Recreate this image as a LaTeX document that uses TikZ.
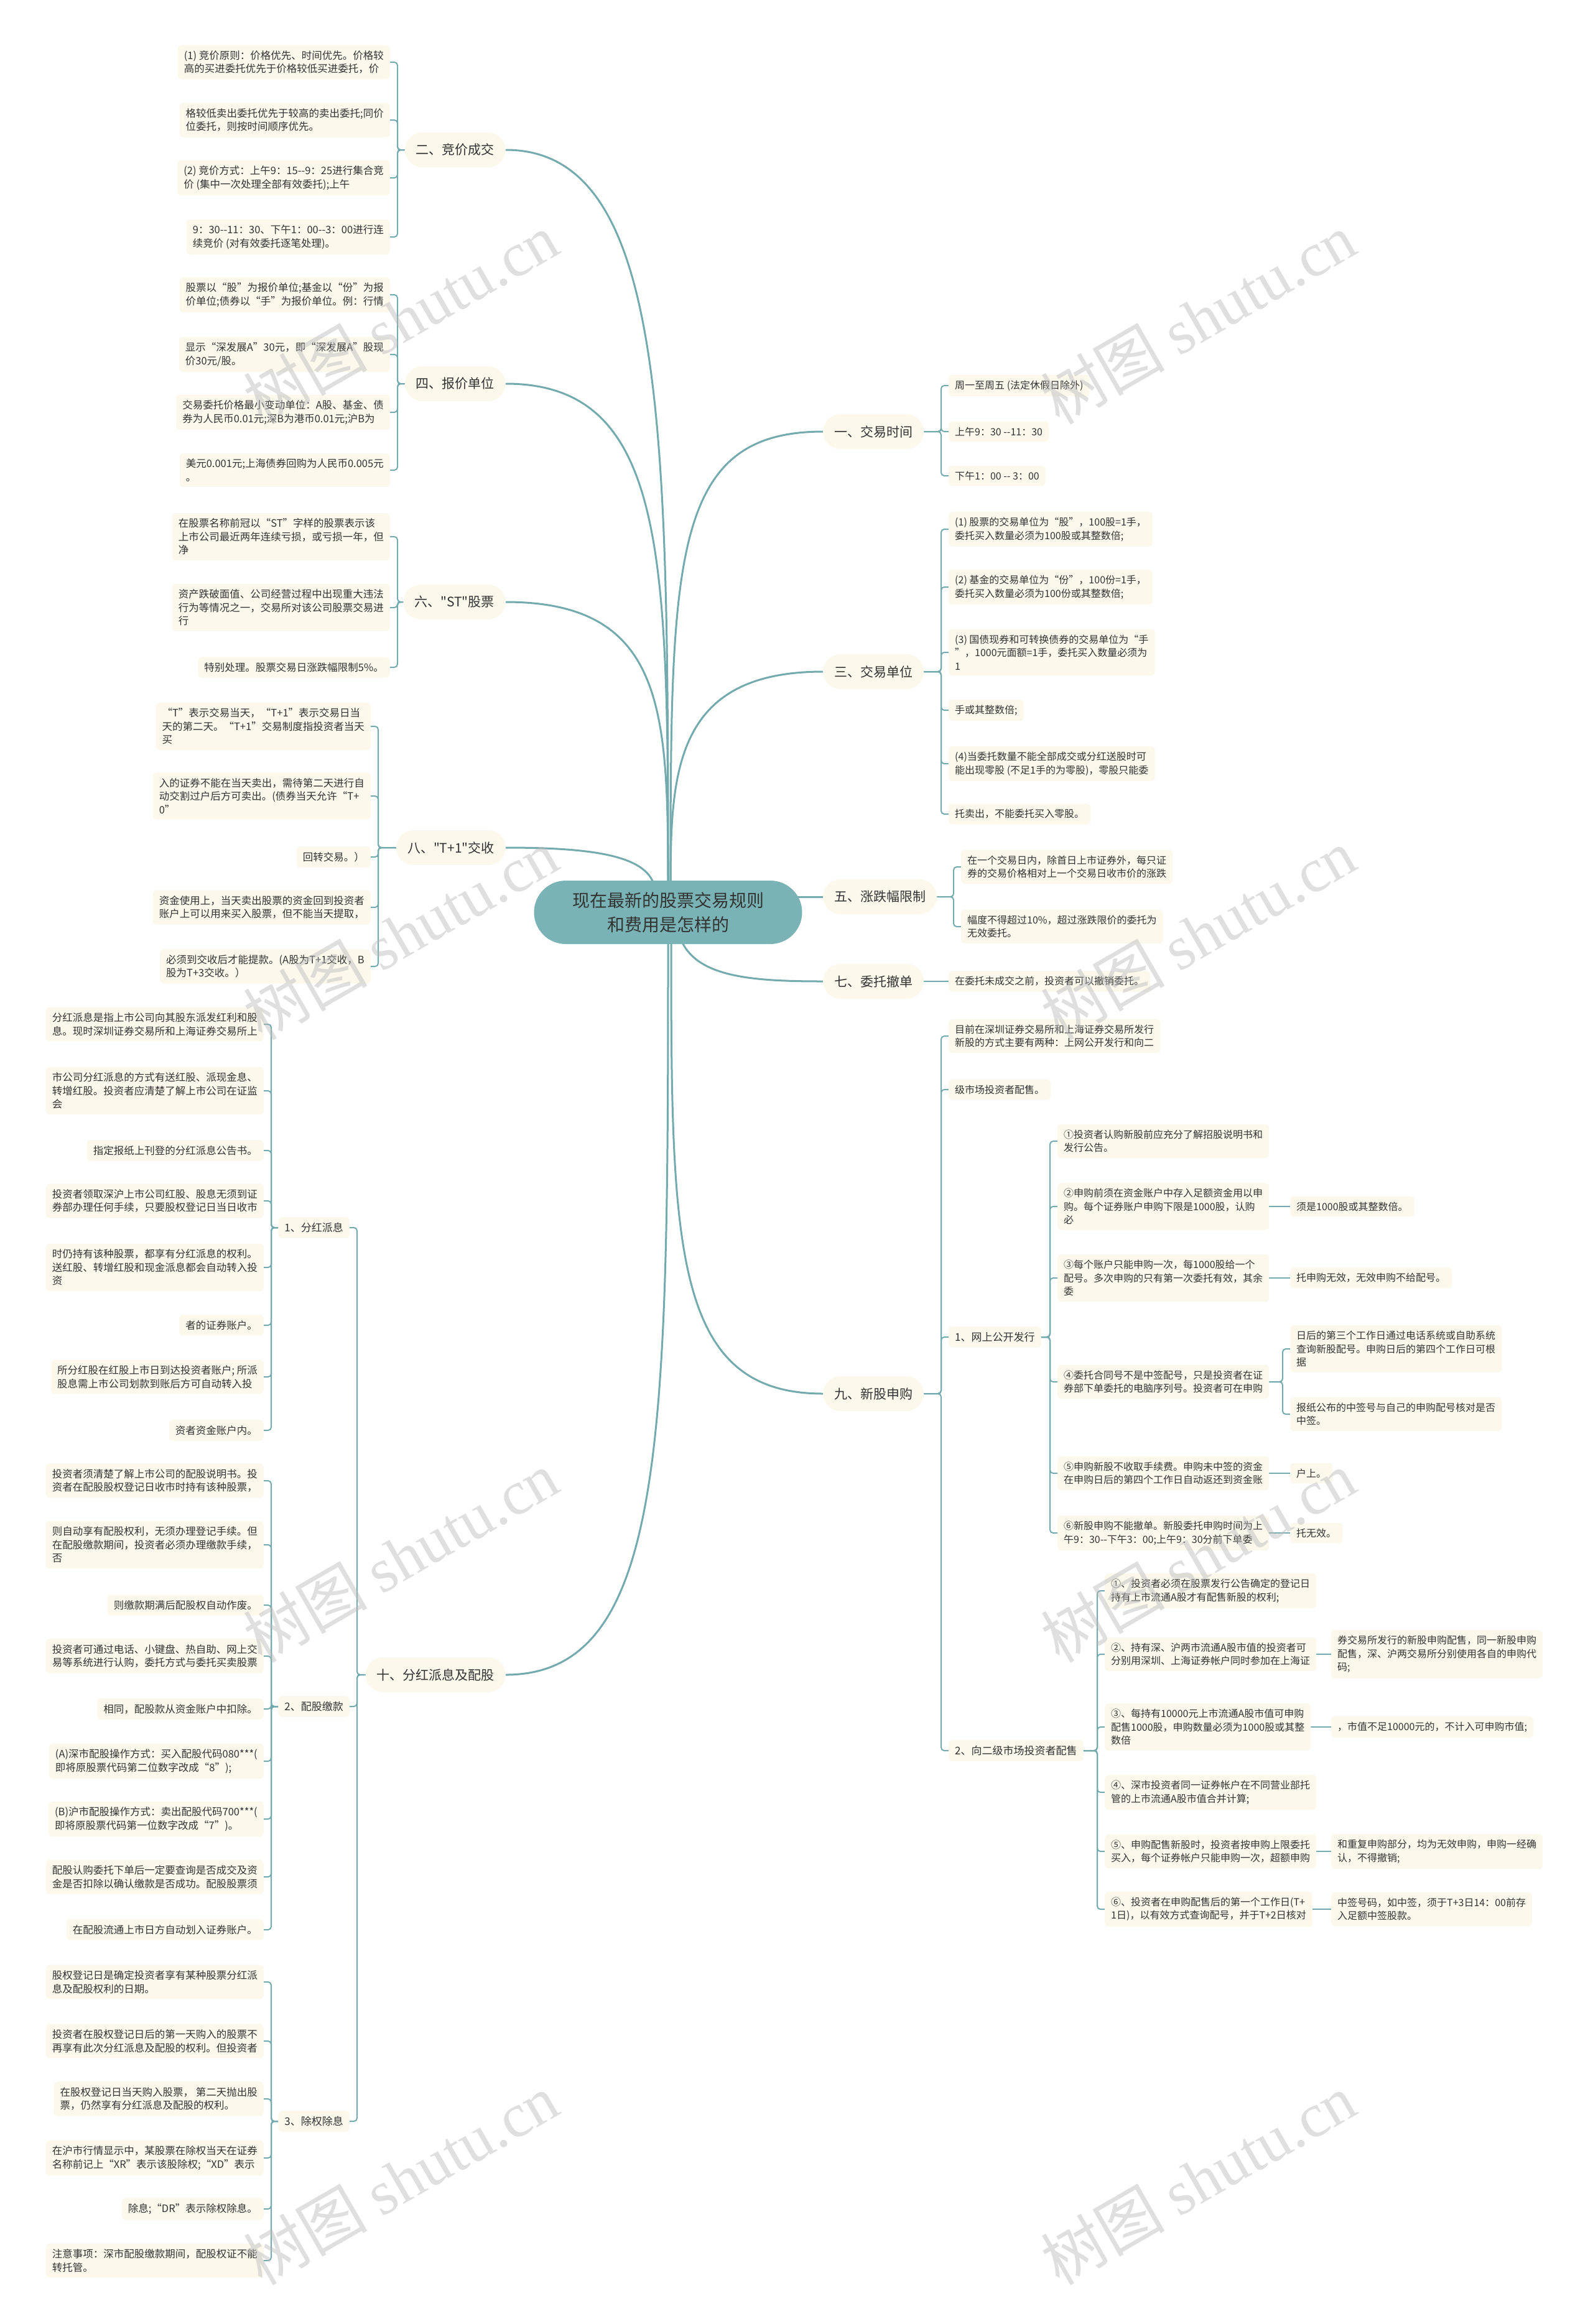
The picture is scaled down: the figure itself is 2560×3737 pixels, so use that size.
\documentclass[tikz,border=0pt]{standalone}
\usepackage{fontspec}
\setmainfont{Noto Sans CJK SC}[Ligatures=TeXOff]
\newfontfamily\wmfont{Liberation Serif}
\usepackage{xcolor}
\usetikzlibrary{backgrounds}

\definecolor{linecol}{HTML}{72AAAD}
\definecolor{rootfill}{HTML}{79B3B5}
\definecolor{boxfill}{HTML}{FCF8EC}
\definecolor{txtcol}{HTML}{333333}

\begin{document}
\begin{tikzpicture}[
  x=1pt, y=-1pt,
  rootnode/.style={fill=rootfill, rounded corners=51, minimum width=431, minimum height=102, align=center, text=txtcol, font=\fontsize{28}{39}\selectfont},
  topic/.style={fill=boxfill, rounded corners=28, minimum height=56, inner xsep=18, text=txtcol, font=\fontsize{21}{25}\selectfont},
  subtopic/.style={fill=boxfill, rounded corners=6, inner xsep=10, inner ysep=9, text=txtcol, font=\fontsize{17}{21.5}\selectfont},
  leafL/.style={fill=boxfill, rounded corners=6, inner xsep=10, inner ysep=9, align=left, anchor=east, text=txtcol, font=\fontsize{16.5}{21.5}\selectfont},
  leafR/.style={fill=boxfill, rounded corners=6, inner xsep=10, inner ysep=9, align=left, anchor=west, text=txtcol, font=\fontsize{16}{21.5}\selectfont},
  branch/.style={draw=linecol, line width=3},
  twig/.style={draw=linecol, line width=2, rounded corners=5},
  watermark/.style={text=gray!55, text opacity=0.45, rotate=30, font=\fontsize{100}{100}\selectfont}
]
\useasboundingbox (0,0) rectangle (2560,3737);

% root
\node[rootnode] (root) at (1074,1467) {现在最新的股票交易规则\\和费用是怎样的};

% left topics
\node[topic, anchor=east] (jj) at (813,241) {二、竞价成交};
\node[topic, anchor=east] (bj) at (813,617) {四、报价单位};
\node[topic, anchor=east] (st) at (813,968) {六、"ST"股票};
\node[topic, anchor=east] (tj) at (813,1363) {八、"T+1"交收};
\node[topic, anchor=east] (fh) at (813,2693) {十、分红派息及配股};

% right topics
\node[topic, anchor=west] (jy) at (1323,694) {一、交易时间};
\node[topic, anchor=west] (dw) at (1323,1080) {三、交易单位};
\node[topic, anchor=west] (zd) at (1323,1442) {五、涨跌幅限制};
\node[topic, anchor=west] (cd) at (1323,1578) {七、委托撤单};
\node[topic, anchor=west] (xg) at (1323,2241) {九、新股申购};

% 二
\node[leafL] (jja) at (627,100) {(1) 竞价原则：价格优先、时间优先。价格较\\高的买进委托优先于价格较低买进委托，价};
\node[leafL] (jjb) at (627,193) {格较低卖出委托优先于较高的卖出委托;同价\\位委托，则按时间顺序优先。};
\node[leafL] (jjc) at (627,286) {(2) 竞价方式：上午9：15--9：25进行集合竞\\价 (集中一次处理全部有效委托);上午};
\node[leafL] (jjd) at (627,381) {9：30--11：30、下午1：00--3：00进行连\\续竞价 (对有效委托逐笔处理)。};

% 四
\node[leafL] (bja) at (627,474) {股票以“股”为报价单位;基金以“份”为报\\价单位;债券以“手”为报价单位。例：行情};
\node[leafL] (bjb) at (627,570) {显示“深发展A”30元，即“深发展A”股现\\价30元/股。};
\node[leafL] (bjc) at (627,663) {交易委托价格最小变动单位：A股、基金、债\\券为人民币0.01元;深B为港币0.01元;沪B为};
\node[leafL] (bjd) at (627,756) {美元0.001元;上海债券回购为人民币0.005元\\。};

% 六
\node[leafL] (sta) at (627,863) {在股票名称前冠以“ST”字样的股票表示该\\上市公司最近两年连续亏损，或亏损一年，但\\净};
\node[leafL] (stb) at (627,977) {资产跌破面值、公司经营过程中出现重大违法\\行为等情况之一，交易所对该公司股票交易进\\行};
\node[leafL] (stc) at (627,1073) {特别处理。股票交易日涨跌幅限制5\%。};

% 八
\node[leafL] (tja) at (596,1168) {“T”表示交易当天，“T+1”表示交易日当\\天的第二天。“T+1”交易制度指投资者当天\\买};
\node[leafL] (tjb) at (596,1280) {入的证券不能在当天卖出，需待第二天进行自\\动交割过户后方可卖出。(债券当天允许“T+\\0”};
\node[leafL] (tjc) at (596,1378) {回转交易。）};
\node[leafL] (tjd) at (596,1459) {资金使用上，当天卖出股票的资金回到投资者\\账户上可以用来买入股票，但不能当天提取，};
\node[leafL] (tje) at (596,1554) {必须到交收后才能提款。(A股为T+1交收，B\\股为T+3交收。）};

% 十
\node[subtopic, anchor=east] (fh1) at (562,1974) {1、分红派息};
\node[subtopic, anchor=east] (fh2) at (562,2744) {2、配股缴款};
\node[subtopic, anchor=east] (fh3) at (562,3411) {3、除权除息};

\node[leafL] (fh1a) at (424,1647) {分红派息是指上市公司向其股东派发红利和股\\息。现时深圳证券交易所和上海证券交易所上};
\node[leafL] (fh1b) at (424,1754) {市公司分红派息的方式有送红股、派现金息、\\转增红股。投资者应清楚了解上市公司在证监\\会};
\node[leafL] (fh1c) at (424,1850) {指定报纸上刊登的分红派息公告书。};
\node[leafL] (fh1d) at (424,1931) {投资者领取深沪上市公司红股、股息无须到证\\券部办理任何手续，只要股权登记日当日收市};
\node[leafL] (fh1e) at (424,2038) {时仍持有该种股票，都享有分红派息的权利。\\送红股、转增红股和现金派息都会自动转入投\\资};
\node[leafL] (fh1f) at (424,2131) {者的证券账户。};
\node[leafL] (fh1g) at (424,2214) {所分红股在红股上市日到达投资者账户; 所派\\股息需上市公司划款到账后方可自动转入投};
\node[leafL] (fh1h) at (424,2300) {资者资金账户内。};

\node[leafL] (fh2a) at (424,2381) {投资者须清楚了解上市公司的配股说明书。投\\资者在配股股权登记日收市时持有该种股票，};
\node[leafL] (fh2b) at (424,2484) {则自动享有配股权利，无须办理登记手续。但\\在配股缴款期间，投资者必须办理缴款手续，\\否};
\node[leafL] (fh2c) at (424,2581) {则缴款期满后配股权自动作废。};
\node[leafL] (fh2d) at (424,2663) {投资者可通过电话、小键盘、热自助、网上交\\易等系统进行认购，委托方式与委托买卖股票};
\node[leafL] (fh2e) at (424,2748) {相同，配股款从资金账户中扣除。};
\node[leafL] (fh2f) at (424,2832) {(A)深市配股操作方式：买入配股代码080***(\\即将原股票代码第二位数字改成“8”);};
\node[leafL] (fh2g) at (424,2925) {(B)沪市配股操作方式：卖出配股代码700***(\\即将原股票代码第一位数字改成“7”)。};
\node[leafL] (fh2h) at (424,3018) {配股认购委托下单后一定要查询是否成交及资\\金是否扣除以确认缴款是否成功。配股股票须};
\node[leafL] (fh2i) at (424,3103) {在配股流通上市日方自动划入证券账户。};

\node[leafL] (fh3a) at (424,3187) {股权登记日是确定投资者享有某种股票分红派\\息及配股权利的日期。};
\node[leafL] (fh3b) at (424,3282) {投资者在股权登记日后的第一天购入的股票不\\再享有此次分红派息及配股的权利。但投资者};
\node[leafL] (fh3c) at (424,3375) {在股权登记日当天购入股票， 第二天抛出股\\票，仍然享有分红派息及配股的权利。};
\node[leafL] (fh3d) at (424,3470) {在沪市行情显示中，某股票在除权当天在证券\\名称前记上“XR”表示该股除权;“XD”表示};
\node[leafL] (fh3e) at (424,3552) {除息;“DR”表示除权除息。};
\node[leafL] (fh3f) at (424,3635) {注意事项：深市配股缴款期间，配股权证不能\\转托管。};

% 一
\node[leafR] (jya) at (1525,620) {周一至周五 (法定休假日除外)};
\node[leafR] (jyb) at (1525,694) {上午9：30 --11：30};
\node[leafR] (jyc) at (1525,765) {下午1：00 -- 3：00};

% 三
\node[leafR] (dwa) at (1525,851) {(1) 股票的交易单位为“股”，100股=1手，\\委托买入数量必须为100股或其整数倍;};
\node[leafR] (dwb) at (1525,944) {(2) 基金的交易单位为“份”，100份=1手，\\委托买入数量必须为100份或其整数倍;};
\node[leafR] (dwc) at (1525,1049) {(3) 国债现券和可转换债券的交易单位为“手\\”，1000元面额=1手，委托买入数量必须为\\1};
\node[leafR] (dwd) at (1525,1142) {手或其整数倍;};
\node[leafR] (dwe) at (1525,1228) {(4)当委托数量不能全部成交或分红送股时可\\能出现零股 (不足1手的为零股)，零股只能委};
\node[leafR] (dwf) at (1525,1309) {托卖出，不能委托买入零股。};

% 五
\node[leafR] (zda) at (1545,1394) {在一个交易日内，除首日上市证券外，每只证\\券的交易价格相对上一个交易日收市价的涨跌};
\node[leafR] (zdb) at (1545,1490) {幅度不得超过10\%，超过涨跌限价的委托为\\无效委托。};

% 七
\node[leafR] (cda) at (1525,1578) {在委托未成交之前，投资者可以撤销委托。};

% 九
\node[leafR] (xga) at (1525,1666) {目前在深圳证券交易所和上海证券交易所发行\\新股的方式主要有两种：上网公开发行和向二};
\node[leafR] (xgb) at (1525,1752) {级市场投资者配售。};
\node[subtopic, anchor=west] (xg1) at (1525,2150) {1、网上公开发行};
\node[subtopic, anchor=west] (xg2) at (1525,2815) {2、向二级市场投资者配售};

\node[leafR] (w1) at (1700,1835) {①投资者认购新股前应充分了解招股说明书和\\发行公告。};
\node[leafR] (w2) at (1700,1940) {②申购前须在资金账户中存入足额资金用以申\\购。每个证券账户申购下限是1000股，认购\\必};
\node[leafR] (w3) at (1700,2055) {③每个账户只能申购一次，每1000股给一个\\配号。多次申购的只有第一次委托有效，其余\\委};
\node[leafR] (w4) at (1700,2222) {④委托合同号不是中签配号，只是投资者在证\\券部下单委托的电脑序列号。投资者可在申购};
\node[leafR] (w5) at (1700,2369) {⑤申购新股不收取手续费。申购未中签的资金\\在申购日后的第四个工作日自动返还到资金账};
\node[leafR] (w6) at (1700,2465) {⑥新股申购不能撤单。新股委托申购时间为上\\午9：30--下午3：00;上午9：30分前下单委};
\node[leafR] (w2a) at (2074,1940) {须是1000股或其整数倍。};
\node[leafR] (w3a) at (2074,2055) {托申购无效，无效申购不给配号。};
\node[leafR] (w4a) at (2074,2169) {日后的第三个工作日通过电话系统或自助系统\\查询新股配号。申购日后的第四个工作日可根\\据};
\node[leafR] (w4b) at (2074,2274) {报纸公布的中签号与自己的申购配号核对是否\\中签。};
\node[leafR] (w5a) at (2074,2369) {户上。};
\node[leafR] (w6a) at (2074,2465) {托无效。};

\node[leafR] (p1) at (1776,2558) {①、投资者必须在股票发行公告确定的登记日\\持有上市流通A股才有配售新股的权利;};
\node[leafR] (p2) at (1776,2660) {②、持有深、沪两市流通A股市值的投资者可\\分别用深圳、上海证券帐户同时参加在上海证};
\node[leafR] (p3) at (1776,2777) {③、每持有10000元上市流通A股市值可申购\\配售1000股，申购数量必须为1000股或其整\\数倍};
\node[leafR] (p4) at (1776,2882) {④、深市投资者同一证券帐户在不同营业部托\\管的上市流通A股市值合并计算;};
\node[leafR] (p5) at (1776,2977) {⑤、申购配售新股时，投资者按申购上限委托\\买入，每个证券帐户只能申购一次，超额申购};
\node[leafR] (p6) at (1776,3070) {⑥、投资者在申购配售后的第一个工作日(T+\\1日)，以有效方式查询配号，并于T+2日核对};
\node[leafR] (p2a) at (2140,2660) {券交易所发行的新股申购配售，同一新股申购\\配售，深、沪两交易所分别使用各自的申购代\\码;};
\node[leafR] (p3a) at (2140,2777) {，市值不足10000元的，不计入可申购市值;};
\node[leafR] (p5a) at (2140,2977) {和重复申购部分，均为无效申购，申购一经确\\认，不得撤销;};
\node[leafR] (p6a) at (2140,3070) {中签号码，如中签，须于T+3日14：00前存\\入足额中签股款。};

\begin{scope}[on background layer]
\fill[white] (0,0) rectangle (2560,3737);
% root to topics
\draw[branch] (1074,1440) .. controls (1074,700) and (1074,241) .. (jj.east);
\draw[branch] (1074,1440) .. controls (1074,900) and (1074,617) .. (bj.east);
\draw[branch] (1074,1440) .. controls (1074,1150) and (1074,968) .. (st.east);
\draw[branch] (1052,1425) .. controls (1040,1375) and (950,1363) .. (tj.east);
\draw[branch] (1074,1500) .. controls (1074,2300) and (1074,2693) .. (fh.east);
\draw[branch] (1078,1440) .. controls (1078,900) and (1078,694) .. (jy.west);
\draw[branch] (1078,1440) .. controls (1078,1250) and (1078,1080) .. (dw.west);
\draw[branch] (1260,1442) -- (zd.west);
\draw[branch] (1091,1500) .. controls (1110,1570) and (1200,1578) .. (cd.west);
\draw[branch] (1079,1500) .. controls (1079,2000) and (1079,2241) .. (xg.west);

% left brackets
\draw[twig] (jja.east) -- ++(12,0) |- (jj.west);
\draw[twig] (jjb.east) -- ++(12,0) |- (jj.west);
\draw[twig] (jjc.east) -- ++(12,0) |- (jj.west);
\draw[twig] (jjd.east) -- ++(12,0) |- (jj.west);
\draw[twig] (bja.east) -- ++(12,0) |- (bj.west);
\draw[twig] (bjb.east) -- ++(12,0) |- (bj.west);
\draw[twig] (bjc.east) -- ++(12,0) |- (bj.west);
\draw[twig] (bjd.east) -- ++(12,0) |- (bj.west);
\draw[twig] (sta.east) -- ++(12,0) |- (st.west);
\draw[twig] (stb.east) -- ++(12,0) |- (st.west);
\draw[twig] (stc.east) -- ++(12,0) |- (st.west);
\draw[twig] (tja.east) -- ++(12,0) |- (tj.west);
\draw[twig] (tjb.east) -- ++(12,0) |- (tj.west);
\draw[twig] (tjc.east) -- ++(12,0) |- (tj.west);
\draw[twig] (tjd.east) -- ++(12,0) |- (tj.west);
\draw[twig] (tje.east) -- ++(12,0) |- (tj.west);
\draw[twig] (fh1.east) -- ++(12,0) |- (fh.west);
\draw[twig] (fh2.east) -- ++(12,0) |- (fh.west);
\draw[twig] (fh3.east) -- ++(12,0) |- (fh.west);
\draw[twig] (fh1a.east) -- ++(12,0) |- (fh1.west);
\draw[twig] (fh1b.east) -- ++(12,0) |- (fh1.west);
\draw[twig] (fh1c.east) -- ++(12,0) |- (fh1.west);
\draw[twig] (fh1d.east) -- ++(12,0) |- (fh1.west);
\draw[twig] (fh1e.east) -- ++(12,0) |- (fh1.west);
\draw[twig] (fh1f.east) -- ++(12,0) |- (fh1.west);
\draw[twig] (fh1g.east) -- ++(12,0) |- (fh1.west);
\draw[twig] (fh1h.east) -- ++(12,0) |- (fh1.west);
\draw[twig] (fh2a.east) -- ++(12,0) |- (fh2.west);
\draw[twig] (fh2b.east) -- ++(12,0) |- (fh2.west);
\draw[twig] (fh2c.east) -- ++(12,0) |- (fh2.west);
\draw[twig] (fh2d.east) -- ++(12,0) |- (fh2.west);
\draw[twig] (fh2e.east) -- ++(12,0) |- (fh2.west);
\draw[twig] (fh2f.east) -- ++(12,0) |- (fh2.west);
\draw[twig] (fh2g.east) -- ++(12,0) |- (fh2.west);
\draw[twig] (fh2h.east) -- ++(12,0) |- (fh2.west);
\draw[twig] (fh2i.east) -- ++(12,0) |- (fh2.west);
\draw[twig] (fh3a.east) -- ++(12,0) |- (fh3.west);
\draw[twig] (fh3b.east) -- ++(12,0) |- (fh3.west);
\draw[twig] (fh3c.east) -- ++(12,0) |- (fh3.west);
\draw[twig] (fh3d.east) -- ++(12,0) |- (fh3.west);
\draw[twig] (fh3e.east) -- ++(12,0) |- (fh3.west);
\draw[twig] (fh3f.east) -- ++(12,0) |- (fh3.west);

% right brackets
\draw[twig] (jya.west) -- ++(-12,0) |- (jy.east);
\draw[twig] (jyb.west) -- ++(-12,0) |- (jy.east);
\draw[twig] (jyc.west) -- ++(-12,0) |- (jy.east);
\draw[twig] (dwa.west) -- ++(-12,0) |- (dw.east);
\draw[twig] (dwb.west) -- ++(-12,0) |- (dw.east);
\draw[twig] (dwc.west) -- ++(-12,0) |- (dw.east);
\draw[twig] (dwd.west) -- ++(-12,0) |- (dw.east);
\draw[twig] (dwe.west) -- ++(-12,0) |- (dw.east);
\draw[twig] (dwf.west) -- ++(-12,0) |- (dw.east);
\draw[twig] (zda.west) -- ++(-12,0) |- (zd.east);
\draw[twig] (zdb.west) -- ++(-12,0) |- (zd.east);
\draw[twig] (cda.west) -- (cd.east);
\draw[twig] (xga.west) -- ++(-12,0) |- (xg.east);
\draw[twig] (xgb.west) -- ++(-12,0) |- (xg.east);
\draw[twig] (xg1.west) -- ++(-12,0) |- (xg.east);
\draw[twig] (xg2.west) -- ++(-12,0) |- (xg.east);
\draw[twig] (w1.west) -- ++(-12,0) |- (xg1.east);
\draw[twig] (w2.west) -- ++(-12,0) |- (xg1.east);
\draw[twig] (w3.west) -- ++(-12,0) |- (xg1.east);
\draw[twig] (w4.west) -- ++(-12,0) |- (xg1.east);
\draw[twig] (w5.west) -- ++(-12,0) |- (xg1.east);
\draw[twig] (w6.west) -- ++(-12,0) |- (xg1.east);
\draw[twig] (w2a.west) -- (w2.east);
\draw[twig] (w3a.west) -- (w3.east);
\draw[twig] (w4a.west) -- ++(-12,0) |- (w4.east);
\draw[twig] (w4b.west) -- ++(-12,0) |- (w4.east);
\draw[twig] (w5a.west) -- (w5.east);
\draw[twig] (w6a.west) -- (w6.east);
\draw[twig] (p1.west) -- ++(-12,0) |- (xg2.east);
\draw[twig] (p2.west) -- ++(-12,0) |- (xg2.east);
\draw[twig] (p3.west) -- ++(-12,0) |- (xg2.east);
\draw[twig] (p4.west) -- ++(-12,0) |- (xg2.east);
\draw[twig] (p5.west) -- ++(-12,0) |- (xg2.east);
\draw[twig] (p6.west) -- ++(-12,0) |- (xg2.east);
\draw[twig] (p2a.west) -- (p2.east);
\draw[twig] (p3a.west) -- (p3.east);
\draw[twig] (p5a.west) -- (p5.east);
\draw[twig] (p6a.west) -- (p6.east);
\end{scope}

% watermark
\foreach \wx/\wy [count=\i] in {644/512, 1926/512, 644/1502, 1926/1502, 644/2503, 1926/2503, 644/3504, 1926/3504}
  \node[watermark] (wm\i) at (\wx,\wy) {树图 {\wmfont shutu.cn}};
\end{tikzpicture}
\end{document}
